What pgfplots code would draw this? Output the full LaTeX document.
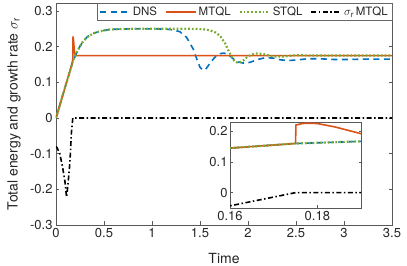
\documentclass[border=0pt]{standalone}
\usepackage{pgfplots}
\pgfplotsset{compat=1.18}
\usepackage{pgfplotstable}
\usepackage{fontspec}
\setmainfont{TeX Gyre Heros}
\definecolor{mblue}{rgb}{0,0.447,0.741}
\definecolor{morange}{rgb}{0.85,0.325,0.098}
\definecolor{mgreen}{rgb}{0.466,0.674,0.188}

\pgfplotstableread{
t v
0 0
0.05 0.045
0.10 0.091
0.16 0.145
0.175 0.160
0.19 0.167
0.22 0.186
0.25 0.201
0.285 0.216
0.33 0.228
0.39 0.237
0.44 0.242
0.49 0.245
0.56 0.248
0.63 0.249
0.80 0.250
1.00 0.250
1.15 0.249
1.22 0.247
1.29 0.242
1.36 0.226
1.43 0.193
1.47 0.163
1.50 0.142
1.53 0.134
1.56 0.137
1.60 0.152
1.65 0.169
1.70 0.180
1.75 0.182
1.80 0.177
1.85 0.165
1.90 0.157
1.95 0.154
2.02 0.156
2.10 0.164
2.18 0.169
2.26 0.168
2.34 0.163
2.42 0.161
2.52 0.163
2.62 0.166
2.75 0.166
2.90 0.164
3.05 0.164
3.20 0.165
3.35 0.165
3.50 0.165
}\dns

\pgfplotstableread{
t v
0 0
0.05 0.045
0.10 0.091
0.16 0.145
0.1750 0.160
0.1751 0.220
0.1765 0.225
0.178 0.226
0.180 0.225
0.184 0.214
0.187 0.203
0.190 0.192
0.195 0.182
0.200 0.177
0.210 0.175
0.300 0.175
3.500 0.175
}\mtql

\pgfplotstableread{
t v
0 0
0.05 0.045
0.10 0.091
0.16 0.145
0.175 0.160
0.19 0.167
0.22 0.186
0.25 0.201
0.285 0.216
0.33 0.228
0.39 0.237
0.44 0.242
0.49 0.245
0.56 0.248
0.63 0.249
0.80 0.250
1.00 0.250
1.20 0.250
1.40 0.250
1.53 0.249
1.60 0.246
1.66 0.240
1.71 0.230
1.76 0.210
1.80 0.187
1.83 0.172
1.86 0.159
1.90 0.154
1.95 0.161
2.00 0.173
2.07 0.181
2.15 0.180
2.25 0.173
2.35 0.172
2.50 0.176
2.70 0.175
3.00 0.175
3.50 0.175
}\stql

\pgfplotstableread{
t v
0 -0.080
0.01 -0.083
0.04 -0.100
0.07 -0.140
0.094 -0.180
0.11 -0.222
0.125 -0.185
0.14 -0.140
0.15 -0.100
0.16 -0.043
0.175 0
0.20 0
3.50 0
}\sig

\pgfplotsset{
  mstyle/.style={
    scale only axis,
    axis line style={black!65, line width=0.5bp},
    tick style={black!65, line width=0.5bp},
    tick align=inside,
    major tick length=3.5bp,
    ticklabel style={font=\fontsize{13bp}{15bp}\selectfont, text=black!85},
    /pgf/number format/assume math mode=true,
  },
  sdns/.style={mblue, line width=1.6bp, dash pattern=on 6bp off 4.5bp},
  smtql/.style={morange, line width=1.6bp},
  sstql/.style={mgreen, line width=2.2bp, dash pattern=on 1.8bp off 2bp},
  ssig/.style={black, line width=1.6bp, dash pattern=on 5bp off 2.5bp on 1.5bp off 2.5bp},
}

\begin{document}
\begin{tikzpicture}
\begin{axis}[
  mstyle,
  at={(0,0)}, anchor=south west,
  width=336bp, height=222bp,
  xmin=0, xmax=3.5, ymin=-0.3, ymax=0.3224,
  xtick={0,0.5,...,3.5},
  ytick={-0.3,-0.2,-0.1,0,0.1,0.2,0.3},
  xticklabels={0,0.5,1,1.5,2,2.5,3,3.5},
  yticklabels={-0.3,-0.2,-0.1,0,0.1,0.2,0.3},
  xlabel={Time},
  ylabel={Total energy and growth rate $\sigma_{\mathrm{r}}$},
  xlabel style={font=\fontsize{14bp}{16bp}\selectfont, text=black!85, at={(axis description cs:0.5,-0.149)}, anchor=center},
  ylabel style={font=\fontsize{14bp}{16bp}\selectfont, text=black!85, at={(axis description cs:-0.125,0.5)}, anchor=center},
  legend columns=4,
  legend image code/.code={\draw[#1] (0bp,0bp) -- (30bp,0bp);},
  legend style={at={(1,1)}, anchor=north east, draw=black!60, line width=0.4bp,
    font=\fontsize{11.5bp}{13bp}\selectfont, text=black!85, inner xsep=2bp, inner ysep=1.5bp,
    /tikz/every even column/.append style={column sep=6bp}},
]
\addplot[sdns] table[x=t,y=v] {\dns};
\addlegendentry{DNS}
\addplot[smtql] table[x=t,y=v] {\mtql};
\addlegendentry{MTQL}
\addplot[sstql] table[x=t,y=v] {\stql};
\addlegendentry{STQL}
\addplot[ssig] table[x=t,y=v] {\sig};
\addlegendentry{$\sigma_{\mathrm{r}}$\,MTQL}
\end{axis}
\begin{axis}[
  mstyle,
  at={(174bp,17bp)}, anchor=south west,
  width=131bp, height=86bp,
  axis background/.style={fill=white},
  xmin=0.16, xmax=0.19, ymin=-0.05, ymax=0.23,
  xtick={0.16,0.18}, xticklabels={0.16,0.18},
  ytick={0,0.1,0.2}, yticklabels={0,0.1,0.2},
  major tick length=2.5bp,
  yticklabel style={xshift=1bp},
]
\addplot[sdns] table[x=t,y=v] {\dns};
\addplot[smtql] table[x=t,y=v] {\mtql};
\addplot[sstql] table[x=t,y=v] {\stql};
\addplot[ssig] table[x=t,y=v] {\sig};
\end{axis}
\pgfresetboundingbox
\useasboundingbox (-56bp,-41bp) rectangle (351bp,225bp);
\end{tikzpicture}
\end{document}
